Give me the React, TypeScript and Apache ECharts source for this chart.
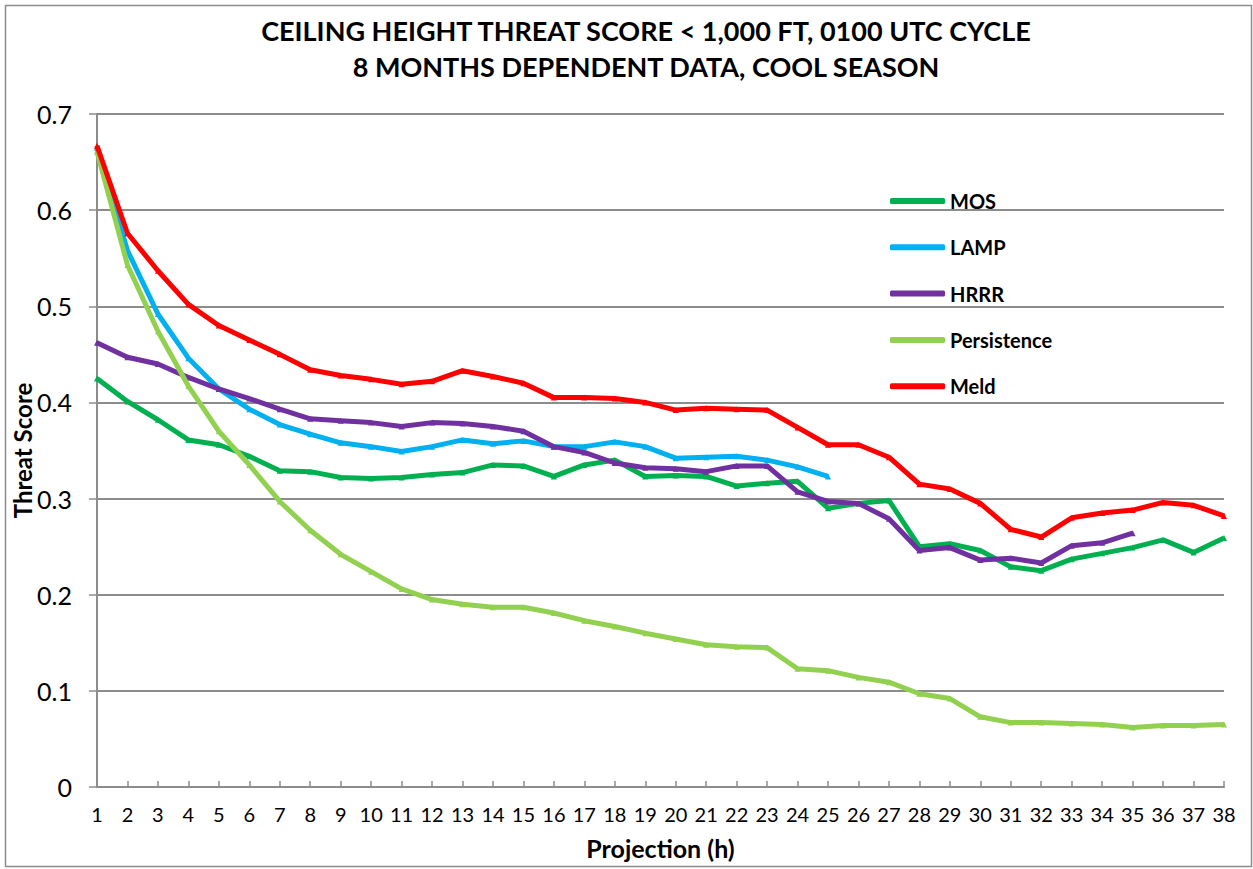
import React, { useEffect, useRef } from "react";
import * as echarts from "echarts";

const projections = Array.from({ length: 38 }, (_, i) => String(i + 1));

const mos = [0.425, 0.401, 0.382, 0.361, 0.356, 0.344, 0.329, 0.328, 0.322, 0.321, 0.322, 0.325, 0.327, 0.335, 0.334, 0.323, 0.335, 0.340, 0.323, 0.324, 0.323, 0.313, 0.316, 0.318, 0.290, 0.295, 0.298, 0.250, 0.253, 0.246, 0.229, 0.225, 0.237, 0.243, 0.249, 0.257, 0.244, 0.259];
const lamp = [0.665, 0.558, 0.492, 0.446, 0.414, 0.393, 0.377, 0.367, 0.358, 0.354, 0.349, 0.354, 0.361, 0.357, 0.360, 0.354, 0.354, 0.359, 0.354, 0.342, 0.343, 0.344, 0.340, 0.333, 0.323];
const hrrr = [0.462, 0.447, 0.440, 0.426, 0.414, 0.404, 0.393, 0.383, 0.381, 0.379, 0.375, 0.379, 0.378, 0.375, 0.370, 0.354, 0.348, 0.337, 0.332, 0.331, 0.328, 0.334, 0.334, 0.307, 0.297, 0.295, 0.279, 0.246, 0.249, 0.236, 0.238, 0.233, 0.251, 0.254, 0.264];
const persistence = [0.661, 0.543, 0.474, 0.417, 0.370, 0.335, 0.297, 0.267, 0.242, 0.224, 0.206, 0.195, 0.190, 0.187, 0.187, 0.181, 0.173, 0.167, 0.160, 0.154, 0.148, 0.146, 0.145, 0.123, 0.121, 0.114, 0.109, 0.097, 0.092, 0.073, 0.067, 0.067, 0.066, 0.065, 0.062, 0.064, 0.064, 0.065];
const meld = [0.667, 0.576, 0.537, 0.502, 0.480, 0.465, 0.450, 0.434, 0.428, 0.424, 0.419, 0.422, 0.433, 0.427, 0.420, 0.405, 0.405, 0.404, 0.400, 0.392, 0.394, 0.393, 0.392, 0.374, 0.356, 0.356, 0.343, 0.315, 0.310, 0.295, 0.268, 0.260, 0.280, 0.285, 0.288, 0.296, 0.293, 0.282];

const seriesNames = ["MOS", "LAMP", "HRRR", "Persistence", "Meld"];
const seriesData = [mos, lamp, hrrr, persistence, meld];
const seriesColors = ["#00B050", "#00B0F0", "#7030A0", "#92D050", "#FF0000"];

const titleText = "CEILING HEIGHT THREAT SCORE < 1,000 FT, 0100 UTC CYCLE\n8 MONTHS DEPENDENT DATA, COOL SEASON";

const FONT = "Lato, 'Open Sans', sans-serif";

export default function App() {
  const ref = useRef<HTMLDivElement>(null);
  useEffect(() => {
    if (!ref.current) return;
    const chart = echarts.init(ref.current, null, { renderer: "svg" });
    chart.setOption({
      animation: false,
      backgroundColor: "#ffffff",
      textStyle: { fontFamily: FONT },
      title: {
        text: titleText,
        left: 641,
        top: 7,
        textAlign: "center",
        textStyle: { fontFamily: FONT, fontSize: 27, fontWeight: "bold", color: "#000", lineHeight: 36 },
      },
      graphic: [
        {
          type: "rect",
          shape: { x: 5.5, y: 5.5, width: 1246, height: 861 },
          style: { fill: "none", stroke: "#8c8c8c", lineWidth: 1.5 },
          silent: true,
          z: -1,
        },
      ],
      legend: {
        orient: "vertical",
        left: 890,
        top: 191,
        padding: 0,
        itemWidth: 55,
        itemHeight: 6,
        itemGap: 26.3,
        icon: "roundRect",
        data: seriesNames,
        textStyle: { fontFamily: FONT, fontSize: 20, fontWeight: "bold", color: "#000", lineHeight: 20 },
      },
      grid: { left: 97, right: 29, top: 114, bottom: 82, containLabel: false, outerBoundsMode: "none" },
      xAxis: {
        type: "category",
        data: projections,
        boundaryGap: false,
        name: "Projection (h)",
        nameLocation: "middle",
        nameGap: 48,
        nameMoveOverlap: false,
        nameTextStyle: { fontFamily: FONT, fontSize: 25, fontWeight: "bold", color: "#000" },
        axisLine: { lineStyle: { color: "#8c8c8c", width: 2 } },
        axisTick: { inside: true, length: 6, interval: 0, alignWithLabel: true, lineStyle: { color: "#8c8c8c", width: 1.5 } },
        axisLabel: { interval: 0, margin: 17, fontFamily: FONT, fontSize: 20, color: "#000" },
        splitLine: { show: false },
      },
      yAxis: {
        type: "value",
        min: 0,
        max: 0.7,
        interval: 0.1,
        name: "Threat Score",
        nameLocation: "middle",
        nameGap: 63,
        nameMoveOverlap: false,
        nameTextStyle: { fontFamily: FONT, fontSize: 24, fontWeight: "bold", color: "#000" },
        axisLine: { show: true, lineStyle: { color: "#8c8c8c", width: 2 } },
        axisTick: { show: true, length: 8, lineStyle: { color: "#8c8c8c", width: 1.5 } },
        axisLabel: { margin: 25, fontFamily: FONT, fontSize: 25, color: "#000", formatter: (v: number) => (v === 0 ? "0" : v.toFixed(1)) },
        splitLine: { lineStyle: { color: "#8c8c8c", width: 2 } },
      },
      series: seriesNames.map((name, i) => ({
        name,
        type: "line",
        data: seriesData[i],
        symbol: "triangle",
        symbolSize: 6,
        showSymbol: true,
        itemStyle: { color: seriesColors[i] },
        lineStyle: { color: seriesColors[i], width: 5 },
        z: 2 + i,
      })),
    });
    return () => chart.dispose();
  }, []);
  return <div ref={ref} style={{ position: "fixed", left: 0, top: 0, width: 1253, height: 869 }} />;
}
